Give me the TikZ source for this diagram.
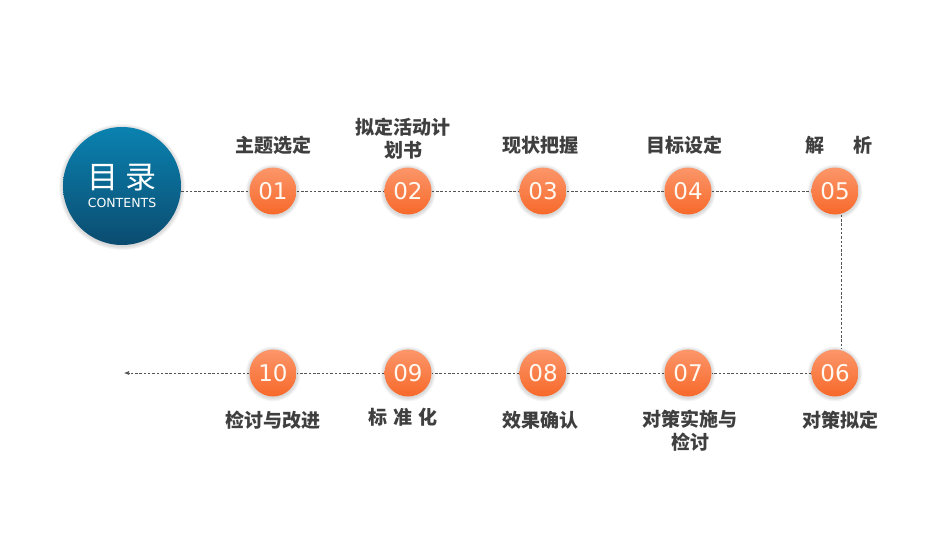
\documentclass[tikz,border=0pt]{standalone}
\usepackage{fontspec}
\setmainfont{DejaVu Sans}
\newfontfamily\cjk{Noto Sans CJK SC}
\usetikzlibrary{backgrounds,arrows.meta}
\definecolor{lbl}{HTML}{3F3F3F}
\definecolor{dash}{HTML}{555555}
\definecolor{otop}{HTML}{FC976A}
\definecolor{obot}{HTML}{F7682A}
\definecolor{btop}{HTML}{0A82B0}
\definecolor{bbot}{HTML}{0B4C70}
\definecolor{numtxt}{HTML}{FFF8F0}
\tikzset{
  numc/.style={circle,minimum size=47pt,inner sep=0pt,top color=otop,bottom color=obot,
    text=numtxt,font=\fontsize{23}{23}\selectfont},
  bigc/.style={circle,minimum size=118pt,inner sep=0pt,top color=btop,bottom color=bbot},
  lab/.style={text=lbl,font=\cjk\bfseries\fontsize{19}{23}\selectfont,align=center,inner sep=0pt},
  dline/.style={draw=dash,line width=0.6pt,dash pattern=on 2.5pt off 1.8pt},
}
\newcommand{\glow}[2]{%
  \foreach \k in {1,...,5}{\fill[black,opacity=0.03] (#1) circle ({#2+\k*0.8});}%
}
\begin{document}
\begin{tikzpicture}[x=1pt,y=-1pt]
\useasboundingbox (0,0) rectangle (950,535);
% glows
\glow{122,187}{59}
\foreach \x/\y in {273/192,408/192,543/192,688/192,835/192,273/374,408/374,543/374,688/374,835/374}{\glow{\x,\y}{23.5}}
% nodes
\node[bigc] (c) at (122,186) {};
\node[text=white,font=\cjk\fontsize{31}{31}\selectfont,inner sep=0pt] (ct1) at (122,178) {目\hspace{8pt}录};
\node[text=white,font=\fontsize{12.5}{14}\selectfont,inner sep=0pt] (ct2) at (122,203) {CONTENTS};
\node[numc] (n1) at (273,191) {01};
\node[numc] (n2) at (408,191) {02};
\node[numc] (n3) at (543,191) {03};
\node[numc] (n4) at (688,191) {04};
\node[numc] (n5) at (835,191) {05};
\node[numc] (n6) at (835,373) {06};
\node[numc] (n7) at (688,373) {07};
\node[numc] (n8) at (543,373) {08};
\node[numc] (n9) at (408,373) {09};
\node[numc] (n10) at (273,373) {10};
\coordinate (end) at (124,373);
% connectors
\begin{scope}[on background layer]
\draw[dline] (c.east |- n1) -- (n1);
\draw[dline] (n1) -- (n2);
\draw[dline] (n2) -- (n3);
\draw[dline] (n3) -- (n4);
\draw[dline] (n4) -- (n5);
\draw[dline] ([xshift=6pt]n5.south) -- ([xshift=6pt]n6.north);
\draw[dline] (n6) -- (n7);
\draw[dline] (n7) -- (n8);
\draw[dline] (n8) -- (n9);
\draw[dline] (n9) -- (n10);
\draw[dline,-{Latex[length=5pt,width=4pt]}] (n10) -- (end);
\end{scope}
% labels
\node[lab] (l1) at (273,145) {主题选定};
\node[lab] (l2) at (403,139) {拟定活动计\\划书};
\node[lab] (l3) at (540,145) {现状把握};
\node[lab] (l4) at (684,145) {目标设定};
\node[lab] (l5) at (839,145) {解\hspace{30pt}析};
\node[lab] (l6) at (840,420) {对策拟定};
\node[lab] (l7) at (690,431) {对策实施与\\检讨};
\node[lab] (l8) at (540,420) {效果确认};
\node[lab] (l9) at (403,417) {标\hspace{6pt}准\hspace{6pt}化};
\node[lab] (l10) at (273,420) {检讨与改进};
\end{tikzpicture}
\end{document}
